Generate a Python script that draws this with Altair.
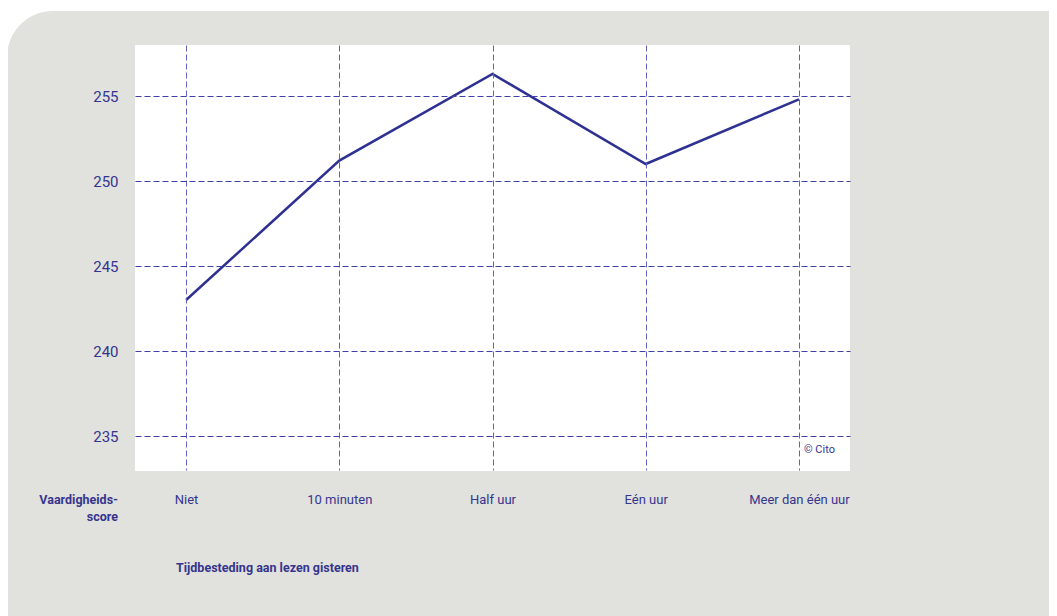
import altair as alt
import pandas as pd

categories = ["Niet", "10 minuten", "Half uur", "Eén uur", "Meer dan één uur"]
scores = [243.0, 251.2, 256.3, 251.0, 254.8]
y_ticks = [235, 240, 245, 250, 255]

df = pd.DataFrame({"cat": categories, "score": scores})

W, H = 715, 425
FONT = "Roboto, Open Sans, sans-serif"
TXT = "#35358f"
LINE = "#2e3192"
GRAY = "#e1e1dd"

one = pd.DataFrame({"a": [0]})

bg = alt.Chart(one).mark_rect(fill=GRAY, cornerRadius=46, clip=False).encode(
    x=alt.value(-128), x2=alt.value(960), y=alt.value(-34), y2=alt.value(700)
)
plotbg = alt.Chart(one).mark_rect(fill="white").encode(
    x=alt.value(0), x2=alt.value(W), y=alt.value(0), y2=alt.value(H + 1)
)

x_enc = alt.X("cat:N", sort=categories,
              scale=alt.Scale(type="point", padding=1/3),
              axis=alt.Axis(title=None, domain=False, ticks=False, labelAngle=0,
                            labelPadding=23, labelFontSize=13, labelFont=FONT,
                            labelColor=TXT, grid=True, gridColor="#6262c0",
                            gridDash=[6, 3], gridWidth=1, zindex=1))
y_enc = alt.Y("score:Q", scale=alt.Scale(domain=[233, 258], nice=False, zero=False),
              axis=alt.Axis(title=None, domain=False, ticks=False, values=y_ticks,
                            labelPadding=17, labelFontSize=15, labelFont=FONT,
                            labelColor=TXT, grid=True, gridColor="#4040aa",
                            gridDash=[6, 3], gridWidth=1, zindex=1))

line = alt.Chart(df).mark_line(color=LINE, strokeWidth=2.5).encode(x=x_enc, y=y_enc)

vaard = alt.Chart(pd.DataFrame({"t": [["Vaardigheids-", "score"]]})).mark_text(
    align="right", baseline="middle", font=FONT, fontSize=12.5, fontWeight="bold",
    color=TXT, lineHeight=17, clip=False
).encode(text="t:N", x=alt.value(-17), y=alt.value(H + 30))

xtitle = alt.Chart(pd.DataFrame({"t": ["Tijdbesteding aan lezen gisteren"]})).mark_text(
    align="left", baseline="middle", font=FONT, fontSize=12.5, fontWeight="bold",
    color=TXT, clip=False
).encode(text="t:N", x=alt.value(41), y=alt.value(H + 98))

cito = alt.Chart(pd.DataFrame({"t": ["© Cito"]})).mark_text(
    align="left", baseline="middle", font=FONT, fontSize=11, color=TXT
).encode(text="t:N", x=alt.value(669), y=alt.value(H - 20))

chart = alt.layer(bg, plotbg, line, vaard, xtitle, cito).properties(
    width=W, height=H,
    autosize=alt.AutoSizeParams(type="none"),
    padding={"left": 127, "top": 37, "right": 199, "bottom": 146},
    background="white",
).configure_view(stroke=None).configure_axis(gridCap="butt")

chart.save("out.html", embed_options={"renderer": "svg", "actions": False})
